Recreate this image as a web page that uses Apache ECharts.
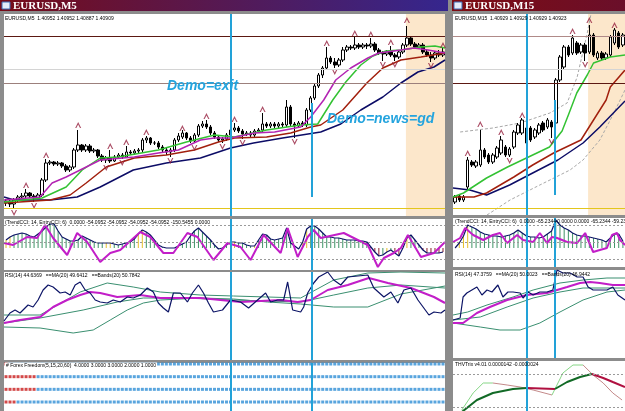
<!DOCTYPE html>
<html>
<head>
<meta charset="UTF-8">
<title>EURUSD M5 / M15</title>
<script src="https://cdn.jsdelivr.net/npm/echarts@6.0.0/dist/echarts.min.js"></script>
<style>
  body { margin: 0; background: #8c8c8c; }
  #chart { width: 625px; height: 411px; }
</style>
</head>
<body>
<div id="chart"></div>
<script>
// ================= EURUSD,M5 (left window) =================
// price levels are in half-pip steps above the bottom of the window
// candles: [open, close, low, high]
var m5Candles = [
  [13,15,10,17],[15,12,9,17],[12,16,7,18],[16,19,14,21],[19,20,17,23],[20,23,18,27],[23,20,18,24],[20,18,14,22],[18,21,17,23],[21,36,19,38],
  [36,53,34,57],[53,54,51,56],[54,52,50,55],[52,53,50,55],[53,50,48,54],[50,46,44,52],[46,49,44,51],[49,66,47,68],[66,71,64,86],[71,66,64,72],
  [66,70,64,72],[70,65,63,72],[65,66,63,68],[66,60,58,67],[60,56,54,62],[56,58,53,60],[58,55,53,66],[55,59,54,61],[59,61,58,63],[61,59,57,63],
  [59,64,58,70],[64,63,61,66],[63,65,61,67],[65,66,63,68],[66,76,64,78],[76,78,73,80],[78,73,71,79],[73,73,71,75],[73,69,67,75],[69,66,63,71],
  [66,64,61,68],[64,66,59,68],[66,76,64,78],[76,80,74,83],[79,83,77,86],[83,78,76,84],[78,75,73,80],[75,81,73,83],[81,90,79,92],[90,92,88,95],
  [92,89,87,96],[89,83,81,91],[83,79,77,85],[79,76,74,81],[76,77,73,79],[77,81,75,83],[81,86,79,88],[86,88,84,93],[88,85,83,90],[85,82,77,87],
  [82,83,80,85],[83,81,79,85],[81,85,79,87],[85,86,83,88],[86,92,84,103],[92,90,88,94],[90,92,88,94],[92,90,88,94],[90,92,88,94],[92,91,89,94],
  [91,109,89,116],[109,92,90,111],[92,90,78,94],[90,93,88,95],[93,91,89,95],[91,106,89,108],[106,118,104,120],[118,130,116,132],[130,141,128,143],[141,148,138,150],
  [148,158,146,169],[158,154,152,160],[154,151,148,158],[151,156,149,158],[156,166,154,169],[166,169,164,171],[169,168,166,171],[168,171,166,179],[171,169,167,173],[169,171,167,173],
  [171,170,167,173],[170,172,168,178],[172,166,164,174],[166,163,161,168],[163,162,155,165],[162,164,160,166],[164,161,159,170],[161,159,155,163],[159,164,157,166],[164,171,162,173],
  [171,178,169,190],[178,172,170,180],[172,169,167,174],[169,171,167,173],[171,164,162,173],[164,161,159,166],[161,158,154,164],[158,163,156,165],[163,161,159,166],[161,164,159,168]
];
// moving averages as [bar, level]
var m5MaFast = [[-0.5,16],[8.5,19],[11.5,33],[15,39],[20,49],[23.5,56],[32,59],[38,63],[43,66],[48.5,76],[52,78],[56,78],[62,83],[67,84],[73.5,89],[76,99],[79.25,116],[82.25,136],[86,148],[90.25,158],[93,163],[98.5,166],[101.75,168],[105.25,166],[109.5,163]];
var m5MaMid = [[-0.5,14],[9,18],[15,29],[19,46],[23.5,58],[28,59],[38,66],[45,74],[52,81],[57,79],[65,86],[73.5,91],[77.75,92],[81.5,116],[84.75,134],[88.5,151],[91.5,160],[94.75,165],[98.5,166],[103.5,169],[107,170],[109.5,168]];
var m5MaSlow = [[-0.5,13],[11,16],[16,21],[20,33],[25,49],[32,58],[40,61],[47,66],[53,74],[57,78],[65,79],[71,83],[76,89],[78.5,91],[84,106],[90,133],[94,148],[98.5,156],[103.5,159],[109.5,163]];
var m5MaTrend = [[-0.5,19],[2,16],[11,16],[17.75,19],[23.5,29],[31.75,46],[40,53],[48.5,58],[56,68],[61.75,73],[69,78],[78.5,84],[83.5,92],[88.5,106],[94,119],[98.5,133],[102.75,144],[106.75,149],[109.5,156]];
var m5FractalUp = [[5,31],[10,61],[18,91],[26,70],[30,74],[35,84],[44,88],[50,100],[57,97],[64,107],[80,173],[87,183],[91,182],[96,174],[100,196],[109,171]];
var m5FractalDown = [[2,3],[7,10],[25,48],[29,53],[41,55],[47,68],[54,69],[59,73],[72,74],[82,144],[94,151],[97,151],[106,150]];
var m5Levels = [180, 147, 133, 8];
var m5Events = [56, 76.25];          // vertical marks (bar index)
var m5EventSpan = [113, 19];         // second mark only spans these levels
var m5Session = [99.75, 109.5];      // shaded session

// TrendCCI(14) per bar, its state (1 up, 0 flat, -1 down) and EntryCCI(6)
var m5TrendCci = [
  48,66,78,84,90,84,72,66,84,102, 126,144,144,102,66,54,42,42,48,72,
  60,48,36,30,30,30,30,24,18,24, 30,36,54,84,108,96,78,48,18,6,
  0,0,0,12,24,36,72,102,120,96, 72,48,18,-6,0,18,36,36,30,30,
  18,12,12,48,84,78,54,48,54,60, 120,30,12,-6,36,114,132,132,114,90,
  66,66,60,60,54,48,48,48,42,42, 36,6,-24,-48,-42,-24,-12,-30,-48,0,
  60,78,48,18,-12,-30,-30,-30,-30,-24
];
var m5CciState = [
  0,0,1,1,1,1,1,1,1,1, 1,1,1,1,1,1,1,1,1,1,
  1,1,1,1,1,0,0,1,1,1, 1,1,1,0,0,1,1,1,1,1,
  1,1,1,0,1,1,1,1,1,1, 1,1,1,1,1,1,0,0,1,1,
  1,1,0,1,1,1,1,1,1,1, 1,1,1,1,0,0,1,1,1,1,
  1,1,1,1,1,1,1,1,1,1, 1,-1,-1,-1,1,0,1,-1,-1,0,
  0,1,1,1,-1,-1,-1,-1,-1,-1
];
var m5EntryCci = [[-0.5,30],[1.75,18],[5.25,66],[7.75,60],[9.75,138],[11.75,60],[15.25,-42],[17.75,90],[20.25,36],[23.5,-84],[26,-30],[28.5,-12],[33.5,96],[36,66],[39.25,-30],[41.75,-30],[45.25,90],[47.75,66],[51.75,-72],[55.25,30],[58.5,6],[61,-72],[64.25,78],[68.5,-30],[70.25,120],[72.75,-54],[75.25,66],[76.75,108],[78.5,60],[84.25,90],[90.25,18],[92.75,-114],[94.25,-60],[96.75,-30],[98.5,0],[100.25,78],[103.5,-54],[106.75,-30],[109.5,36]];
var cciLevels = [138, 36, -66];

// RSI(14), MA(20) and bands
var m5Rsi = [[-0.5,41],[1,45],[2.25,46.5],[3.5,45],[4.75,47.5],[5.5,49],[6.75,48],[8,51.5],[9.25,56.5],[10.5,59],[11.75,58],[13.5,55],[14.75,55.5],[16,54],[17.25,59],[18.5,60.5],[19.75,56.5],[21,55],[22.25,51.5],[23.5,50.5],[25.25,50],[26.75,51.5],[28.5,50.5],[30.25,53],[31.75,52.5],[33.5,54],[35.25,57.5],[36.75,55.5],[38,50],[39.25,47.5],[40.5,45.5],[41.75,55],[43.5,55],[45.25,50.5],[46.5,55],[48,59],[49.25,55],[50.5,50],[51.75,45.5],[54,46.5],[56,51.5],[58.5,50.5],[60.5,47.5],[62.75,51.5],[64.75,55],[66,50.5],[67.75,51.5],[69.25,51.5],[70.25,60.5],[71.5,46.5],[73.5,45.5],[74.25,48],[75.25,55],[76.75,60],[78,63],[80.25,65.5],[81.75,61.5],[83.5,59],[85.25,63],[90.25,64],[91.75,57.5],[94.25,53],[96,55.5],[97.75,50],[99.25,56.5],[101,57.5],[102.75,51.5],[105.5,44],[106.75,45.5],[108.5,45],[109.5,46.5]];
var m5RsiMa = [[-0.5,40],[3.5,41.5],[8.5,43],[11.75,48],[15.25,51.5],[18.5,54],[21,55.5],[23.5,55],[27.75,53],[33.5,54],[38.5,52.5],[48.5,52.5],[58.5,50.5],[68.5,51.5],[72.75,50.5],[76,51.5],[80.25,56.5],[85.25,59],[90.5,62.5],[95.25,60],[101,57.5],[106.75,53],[109.5,50]];
var m5BandUp = [[-0.5,44],[8.5,44],[18.5,55.5],[25.25,60],[31.75,58],[38.5,55.5],[48.5,54],[56.75,53.5],[65.25,53],[73.5,52.5],[81.75,61.5],[90.25,65],[98.5,65.5],[109.5,65]];
var m5BandMid = [[-0.5,40],[8.5,42.5],[19.25,46.5],[27.75,50.5],[34.25,52.5],[44.25,52.5],[56.75,51.5],[65.25,51],[73.5,50.5],[81.75,54],[90.25,57.5],[98.5,59],[109.5,57.5]];
var m5BandLow = [[-0.5,38],[8.5,37.5],[16.75,35],[21.75,36.5],[26,41.5],[30.25,46.5],[34.25,50],[38.5,51.5],[48.5,52.5],[56.75,52],[65.25,50.5],[73.5,49.5],[81.75,48],[90.25,48],[98.5,54.5],[109.5,58.5]];

// Forex Freedom: four signal rows, red bars at the start of each row
var ffLevels = [4, 3, 2, 1];
var ffRedBars = [1, 8, 8, 3];

// ================= EURUSD,M15 (right window) =================
var m15Candles = [
  [14,19,12,21],[20,16,14,22],[16,19,14,21],[29,56,27,59],[54,51,49,56],[50,54,48,56],[51,66,49,86],[66,59,57,68],[61,54,52,63],[54,61,52,63],
  [59,68,57,70],[63,76,61,80],[69,61,59,71],[61,67,59,69],[69,84,67,86],[83,91,81,93],[83,96,81,98],[88,73,71,90],[88,76,74,90],[79,86,77,88],
  [83,91,81,93],[93,86,84,95],[89,96,87,98],[94,89,78,96],[93,136,91,138],[136,159,134,161],[149,169,147,171],[169,161,159,171],[163,178,161,181],[173,163,161,175],
  [164,171,162,173],[171,163,155,173],[164,181,162,191],[181,161,159,183],[158,163,156,165],[163,158,156,165],[158,162,156,164],[161,179,159,181],[173,186,171,188],[183,169,167,185],
  [171,181,169,183]
];
var m15MaMid = [[-0.5,19],[2,23],[7.5,38],[12.5,49],[17,58],[22.5,69],[25.5,85],[27,101],[29,123],[31.5,141],[33,153],[37,159],[40.5,161]];
var m15MaSlow = [[-0.5,19],[4.5,19],[7.5,23],[14,39],[18.5,51],[23.5,63],[30,76],[33,96],[36,116],[37,129],[40.5,146]];
var m15MaTrend = [[-0.5,28],[3.5,26],[7.5,21],[13,31],[18.5,43],[24.5,56],[30.5,73],[34.5,89],[40.5,115]];
var m15EnvUp = [[1.2,84],[9,88],[15.5,93],[22.6,103],[26.7,113],[29.1,139],[31.4,181],[32.4,202]];
var m15EnvLow = [[7.6,1],[13.1,16],[20.2,31],[27.4,46],[30.5,56],[34.5,76],[37.6,101],[40.5,126]];
var m15FractalUp = [[3,63],[6,92],[11,84],[16,101],[28,185],[32,196],[38,191]];
var m15FractalDown = [[13,55],[23,74],[31,151]];
var m15Levels = [180, 147, 133, 8];
var m15Events = [17.1, 23.8];
var m15EventSpan = [116, 21];
var m15Session = [31.7, 40.5];

var m15TrendCci = [0,30,72,138,126,114,96,84,78,72, 72,66,72,78,90,108,90,72,66,66, 60,66,84,102,168,138,120,108,90,78, 72,72,66,60,54,48,36,60,84,84, 42];
var m15CciState = [1,0,0,0,1,1,1,1,1,1, 1,1,1,1,1,1,1,1,1,1, 1,1,1,1,1,1,1,1,1,1, 1,1,1,1,1,1,1,1,1,1, 1];
var m15EntryCci = [[-0.5,36],[1.2,60],[2.4,120],[4.3,78],[6.7,48],[9,78],[10.7,90],[12.4,30],[14.8,78],[16.2,48],[18.6,36],[20.2,90],[21.9,30],[23.1,66],[24.3,60],[26.7,36],[29.1,30],[31,90],[32.2,18],[32.9,-24],[34.5,-12],[36.2,0],[37.4,78],[38.6,90],[39.3,48],[40.5,18]];

var m15Rsi = [[-0.5,41.5],[1.2,42.5],[1.9,53],[2.8,55],[5.2,58],[6.4,54],[7.6,56.5],[8.8,55.5],[10.2,59],[11.4,53],[12.6,55.5],[13.8,55.5],[15.5,55],[16.2,52.5],[17.4,55.5],[18.6,54],[20.2,55.5],[21.9,55.5],[23.3,56.5],[24.3,66.5],[25.7,65],[27.4,65],[29.1,63],[30.5,63],[31.7,58],[32.9,56.5],[36.2,56.5],[37.6,58],[38.8,54],[40.5,51.5]];
var m15RsiMa = [[-0.5,40],[1.9,40],[5.2,45],[8.3,48],[12.4,51.5],[17.1,54],[21.9,55],[24.3,56.5],[26.7,58],[29.8,60],[32.2,60.5],[34.5,60],[37.6,59],[40.5,59]];
var m15BandUp = [[-0.5,44],[3,45.5],[7.6,49],[13.8,53],[18.6,56.5],[25,60],[30.5,61.5],[36.2,62.5],[40.5,62.5]];
var m15BandMid = [[-0.5,41.5],[6,43],[12.4,48],[18.6,52.5],[25,55.5],[30.5,57.5],[36.2,57.5],[40.5,57.5]];
var m15BandLow = [[-0.5,40],[6,38],[10.7,36.5],[15.5,36.5],[20.2,40],[25,45.5],[30.5,51.5],[36.2,55.5],[40.5,56.5]];

// THVTrix: fast and signal lines, with the bars where they change direction
var thvFast = [[1.6,-18],[4.3,-1],[6.7,9],[9,9],[12.4,7],[15.5,5],[18.6,2],[23.1,-3],[25.7,19],[28.1,27],[30.5,27],[32.9,17],[35.3,9],[37.6,-1],[39.8,-8]];
var thvFastTurns = [9, 23.1, 30.5];
var thvSignal = [[1.6,-20],[5.2,-8],[9,-1],[13.8,3],[17.1,4],[23.8,3],[26.7,10],[29.8,15],[32.6,18],[35.3,14],[37.6,10],[40.5,5]];
var thvSignalTurns = [17.1, 23.8, 32.6];
var thvLevels = [18, -15];

// ---------------------------------------------------------------
var chart = echarts.init(document.getElementById('chart'));
var CYAN = '#22a2d8';
var CCI_COLORS = { '1': '#3f9466', '0': '#e6c02c', '-1': '#8c1f2c' };
var UP_PATH = 'path://M0,10 L5,0 L10,10 L8,10 L5,4 L2,10 Z';
var DN_PATH = 'path://M0,0 L5,10 L10,0 L8,0 L5,6 L2,0 Z';

function idx(arr) { return arr.map(function (d, i) { return i; }); }

var grids = [
  {left: 4, top: 14, width: 441, height: 202},
  {left: 4, top: 219, width: 441, height: 51},
  {left: 4, top: 272, width: 441, height: 88},
  {left: 4, top: 363, width: 441, height: 48},
  {left: 453, top: 14, width: 172, height: 201},
  {left: 453, top: 218, width: 172, height: 49},
  {left: 453, top: 270, width: 172, height: 88},
  {left: 453, top: 361, width: 172, height: 50}
].map(function (g) {
  return Object.assign({show: true, backgroundColor: '#fff', borderWidth: 0}, g);
});

var nL = m5Candles.length, nR = m15Candles.length;
function catAxis(g, n) { return {type: 'category', gridIndex: g, data: idx(new Array(n)), show: false}; }
function valAxis(g, n) { return {type: 'value', gridIndex: g, min: -0.5, max: n - 0.5, show: false}; }
var xAxes = [
  catAxis(0, nL), valAxis(0, nL),     // 0,1
  catAxis(1, nL), valAxis(1, nL),     // 2,3
  valAxis(2, nL),                     // 4
  valAxis(3, nL),                     // 5
  catAxis(4, nR), valAxis(4, nR),     // 6,7
  catAxis(5, nR), valAxis(5, nR),     // 8,9
  valAxis(6, nR),                     // 10
  valAxis(7, nR)                      // 11
];
var yRanges = [[0, 202], [-132, 174], [21.5, 65.5], [0.29, 4.08], [1, 202], [-114, 180], [22.5, 66.5], [-19, 31]];
var yAxes = yRanges.map(function (r, g) {
  return {type: 'value', gridIndex: g, min: r[0], max: r[1], show: false};
});

var series = [];
function line(xi, yi, data, color, width, z, type) {
  series.push({
    type: 'line', xAxisIndex: xi, yAxisIndex: yi, data: data, symbol: 'none',
    silent: true, z: z || 3, lineStyle: {color: color, width: width, type: type || 'solid'}
  });
}
function marks(xi, yi, z, markLine, markArea) {
  var s = {type: 'line', xAxisIndex: xi, yAxisIndex: yi, data: [], silent: true, z: z};
  if (markLine) s.markLine = Object.assign({silent: true, symbol: 'none', label: {show: false}, animation: false}, markLine);
  if (markArea) s.markArea = Object.assign({silent: true, label: {show: false}}, markArea);
  series.push(s);
}
function fractals(xi, yi, data, path) {
  series.push({type: 'scatter', xAxisIndex: xi, yAxisIndex: yi, data: data, symbol: path,
    symbolSize: [6, 6], itemStyle: {color: '#96213f'}, silent: true, z: 4});
}
function candles(xi, yi, data) {
  series.push({type: 'candlestick', xAxisIndex: xi, yAxisIndex: yi, data: data, barWidth: 3, z: 2, silent: true,
    itemStyle: {color: '#fff', color0: '#000', borderColor: '#000', borderColor0: '#000', borderWidth: 1}});
}
function cciBars(xi, yi, data, state) {
  series.push({type: 'bar', xAxisIndex: xi, yAxisIndex: yi, data: data, barWidth: 1, silent: true, z: 2,
    itemStyle: {color: function (p) { return CCI_COLORS[String(state[p.dataIndex])]; }}});
}
function vLines(events, span, width) {
  var d = [{xAxis: events[0]}];
  if (span) d.push([{coord: [events[1], span[0]]}, {coord: [events[1], span[1]]}]);
  else d.push({xAxis: events[1]});
  return {lineStyle: {color: CYAN, width: width, type: 'solid'}, data: d};
}
function levelLines(levels, colors, widths) {
  return {data: levels.map(function (v, i) {
    return {yAxis: v, lineStyle: {color: colors[i], width: widths[i], type: 'solid'}};
  })};
}
function dotted(levels) {
  return {lineStyle: {color: '#9a9a9a', width: 1, type: [2, 2]},
    data: levels.map(function (v) { return {yAxis: v}; })};
}
function splitAt(points, turns) {
  var segs = [[]], t = 0;
  points.forEach(function (p) {
    segs[segs.length - 1].push(p);
    if (t < turns.length && p[0] === turns[t]) { segs.push([p]); t++; }
  });
  return segs;
}

// ---- left main ----
marks(1, 0, 1,
  levelLines(m5Levels, ['#5c1812', '#d4d4d4', '#9c807c', '#e3c61c'], [1, 1, 1, 1]),
  {itemStyle: {color: '#fce7cb'}, data: [[{xAxis: m5Session[0]}, {xAxis: m5Session[1]}]]});
candles(0, 0, m5Candles);
line(1, 0, m5MaTrend, '#0c0c66', 1.5);
line(1, 0, m5MaSlow, '#a2200e', 1.5);
line(1, 0, m5MaMid, '#33c233', 1.5);
line(1, 0, m5MaFast, '#b324b3', 1.5);
fractals(1, 0, m5FractalUp, UP_PATH);
fractals(1, 0, m5FractalDown, DN_PATH);
marks(1, 0, 5, vLines(m5Events, m5EventSpan, 2));

// ---- left CCI ----
marks(3, 1, 1, dotted(cciLevels));
cciBars(2, 1, m5TrendCci, m5CciState);
line(2, 1, m5TrendCci, '#0c1466', 1.2);
line(3, 1, m5EntryCci, '#c21ec8', 2);
marks(3, 1, 5, vLines(m5Events, null, 2));

// ---- left RSI ----
line(4, 2, m5BandUp, '#3a8f70', 1);
line(4, 2, m5BandMid, '#3a8f70', 1);
line(4, 2, m5BandLow, '#3a8f70', 1);
line(4, 2, m5RsiMa, '#c21ec8', 2);
line(4, 2, m5Rsi, '#0c1466', 1.2);
marks(4, 2, 5, vLines(m5Events, null, 2));

// ---- left Forex Freedom ----
var ffData = [];
ffLevels.forEach(function (lv, r) {
  for (var i = 0; i < nL; i++) ffData.push([i, lv, i < ffRedBars[r] ? 1 : 0]);
});
series.push({type: 'scatter', xAxisIndex: 5, yAxisIndex: 3, data: ffData, symbol: 'rect', symbolSize: [3, 3], silent: true, z: 2,
  itemStyle: {color: function (p) { return p.value[2] ? '#c81c1c' : '#2f8fd6'; }}});
marks(5, 3, 5, vLines(m5Events, null, 2));

// ---- right main ----
marks(7, 4, 1,
  levelLines(m15Levels, ['#b08a88', '#d4d4d4', '#5c1812', '#e3c61c'], [1, 1, 1, 1]),
  {itemStyle: {color: '#fce7cb'}, data: [[{xAxis: m15Session[0]}, {xAxis: m15Session[1]}]]});
line(7, 4, m15EnvUp, '#a8a8a8', 1, 2, [3, 2]);
line(7, 4, m15EnvLow, '#a8a8a8', 1, 2, [3, 2]);
candles(6, 4, m15Candles);
line(7, 4, m15MaTrend, '#0c0c66', 1.5);
line(7, 4, m15MaSlow, '#a2200e', 1.5);
line(7, 4, m15MaMid, '#33c233', 1.5);
fractals(7, 4, m15FractalUp, UP_PATH);
fractals(7, 4, m15FractalDown, DN_PATH);
marks(7, 4, 5, vLines(m15Events, m15EventSpan, 2));

// ---- right CCI ----
marks(9, 5, 1, dotted(cciLevels));
cciBars(8, 5, m15TrendCci, m15CciState);
line(8, 5, m15TrendCci, '#0c1466', 1.2);
line(9, 5, m15EntryCci, '#c21ec8', 2);
marks(9, 5, 5, vLines(m15Events, null, 2));

// ---- right RSI ----
line(10, 6, m15BandUp, '#3a8f70', 1);
line(10, 6, m15BandMid, '#3a8f70', 1);
line(10, 6, m15BandLow, '#3a8f70', 1);
line(10, 6, m15RsiMa, '#c21ec8', 2);
line(10, 6, m15Rsi, '#0c1466', 1.2);
marks(10, 6, 5, vLines(m15Events, null, 2));

// ---- right THVTrix ----
marks(11, 7, 1, dotted(thvLevels));
splitAt(thvFast, thvFastTurns).forEach(function (seg, k) {
  line(11, 7, seg, k % 2 ? '#c48a8a' : '#86d686', 1);
});
splitAt(thvSignal, thvSignalTurns).forEach(function (seg, k) {
  line(11, 7, seg, k % 2 ? '#b01040' : '#126a26', 2);
});
marks(11, 7, 5, {lineStyle: {color: CYAN, width: 2, type: 'solid'}, data: [{xAxis: m15Events[0]}]});

// ---- window frames and labels ----
function label(x, y, text, extra) {
  return {type: 'text', x: x, y: y, z: 50, silent: true,
    style: Object.assign({text: text, fill: '#000', font: '5px "Liberation Sans"', verticalAlign: 'middle'}, extra || {})};
}
function titleBar(x, w, c0, c1, caption) {
  return [
    {type: 'rect', shape: {x: x, y: 0, width: w, height: 11}, z: 40, silent: true,
      style: {fill: new echarts.graphic.LinearGradient(0, 0, 1, 0, [{offset: 0, color: c0}, {offset: 1, color: c1}])}},
    {type: 'rect', shape: {x: x + 2, y: 2, width: 8, height: 7}, z: 41, silent: true,
      style: {fill: '#e4ecf8', stroke: '#3c6cb4', lineWidth: 1}},
    {type: 'text', x: x + 13, y: 6, z: 42, silent: true,
      style: {text: caption, fill: '#fff', font: 'bold 11px "Liberation Serif"', verticalAlign: 'middle'}}
  ];
}
var graphics = []
  .concat(titleBar(0, 448, '#760c18', '#35268e', 'EURUSD,M5'))
  .concat(titleBar(452, 173, '#7e0c12', '#6a0f2a', 'EURUSD,M15'))
  .concat([
    label(5, 19, 'EURUSD,M5  1.40952 1.40952 1.40887 1.40909'),
    label(5, 223, '(TrendCCI: 14, EntryCCI: 6)  0.0000 -54.0952 -54.0952 -54.0952 -54.0952 -150.5455 0.0000'),
    label(5, 276, 'RSI(14) 44.6369   ==MA(20) 49.6412   ==Bands(20) 50.7842'),
    label(5, 366, '# Forex Freedom(5,15,20,60)  4.0000 3.0000 3.0000 2.0000 1.0000', {backgroundColor: '#fff', padding: [1, 1]}),
    label(455, 19, 'EURUSD,M15  1.40929 1.40929 1.40929 1.40923'),
    label(455, 222, '(TrendCCI: 14, EntryCCI: 6)  0.0000 -65.2344 0.0000 0.0000 -65.2344 -59.2344'),
    label(455, 275, 'RSI(14) 47.3759   ==MA(20) 50.0023   ==Bands(20) 46.9442'),
    label(455, 365, 'THVTrix v4.01 0.0000142 -0.0000024'),
    label(167, 86, 'Demo=exit', {fill: '#24a4de', font: 'italic bold 14px "Liberation Sans"'}),
    label(327, 119, 'Demo=news=gd', {fill: '#24a4de', font: 'italic bold 14px "Liberation Sans"'})
  ]);

chart.setOption({
  animation: false,
  backgroundColor: '#8c8c8c',
  grid: grids,
  xAxis: xAxes,
  yAxis: yAxes,
  series: series,
  graphic: graphics
});
</script>
</body>
</html>
